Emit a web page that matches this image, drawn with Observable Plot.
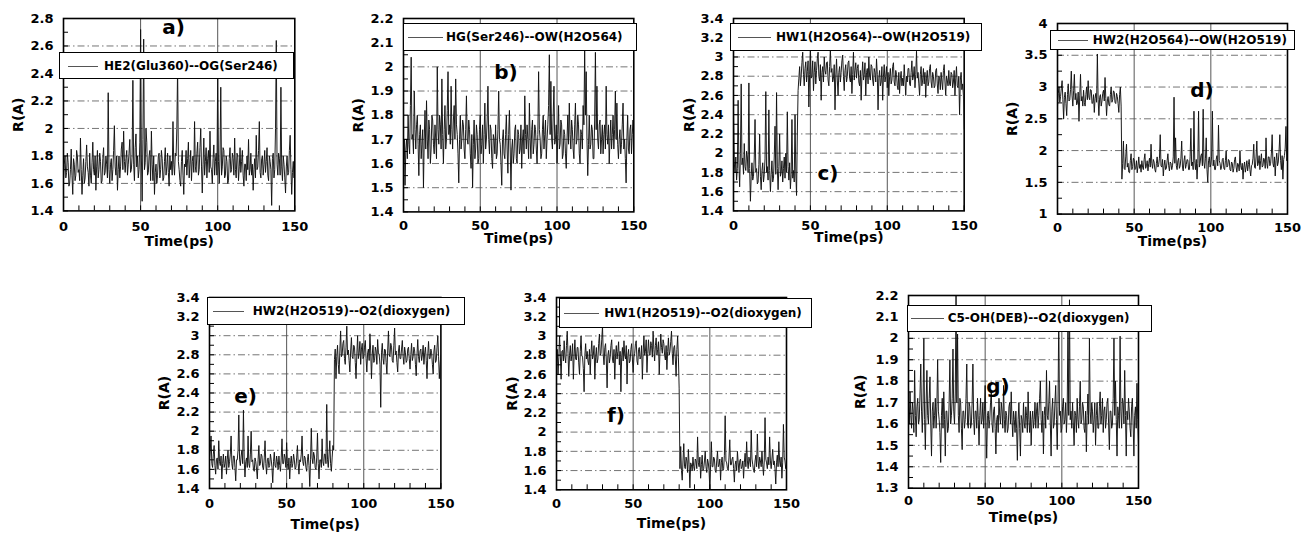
<!DOCTYPE html>
<html><head><meta charset="utf-8">
<script src="https://cdn.jsdelivr.net/npm/d3@7"></script>
<script src="https://cdn.jsdelivr.net/npm/@observablehq/plot@0.6"></script>
<style>
body{margin:0;background:#fff;}
#root{position:relative;width:1302px;height:533px;overflow:hidden;background:#fff;font-family:"DejaVu Sans",sans-serif;font-weight:bold;color:#000;}
.legend{position:absolute;background:#fff;border:1.5px solid #000;box-sizing:border-box;}
.legend .sample{position:absolute;height:0;border-top:1px solid #555;top:50%;}
.legend .txt{position:absolute;font-size:12px;white-space:nowrap;line-height:1;top:50%;transform:translateY(-50%);}
.plabel{position:absolute;font-size:20px;line-height:1;transform:translate(-50%,-50%);}
</style></head><body><div id="root"></div><script>
// time axis: one sample every 0.5 ps, 0..150 ps
const time = d3.range(301).map(i => i / 2);
const xTicks = [0, 50, 100, 150];
const xMinor = [0,10,20,30,40,50,60,70,80,90,100,110,120,130,140,150];
const xGrid = [50, 100];

const panelLabels = ["a)", "b)", "c)", "d)", "e)", "f)", "g)"];
const legendLabels = [
  "HE2(Glu360)--OG(Ser246)",
  "HG(Ser246)--OW(H2O564)",
  "HW1(H2O564)--OW(H2O519)",
  "HW2(H2O564)--OW(H2O519)",
  "HW2(H2O519)--O2(dioxygen)",
  "HW1(H2O519)--O2(dioxygen)",
  "C5-OH(DEB)--O2(dioxygen)"
];

const yTicksA = [1.4,1.6,1.8,2,2.2,2.4,2.6,2.8];
const yTicksB = [1.4,1.5,1.6,1.7,1.8,1.9,2,2.1,2.2];
const yTicksC = [1.4,1.6,1.8,2,2.2,2.4,2.6,2.8,3,3.2,3.4];
const yTicksD = [1,1.5,2,2.5,3,3.5,4];
const yTicksE = [1.4,1.6,1.8,2,2.2,2.4,2.6,2.8,3,3.2,3.4];
const yTicksF = [1.4,1.6,1.8,2,2.2,2.4,2.6,2.8,3,3.2,3.4];
const yTicksG = [1.3,1.4,1.5,1.6,1.7,1.8,1.9,2,2.1,2.2];

const seriesA = [
1.62,1.74,1.80,1.64,1.68,1.82,1.75,1.58,1.60,1.70,1.85,1.66,1.52,1.78,1.74,1.62,1.66,1.84,1.80,1.68,
1.70,1.62,1.93,1.70,1.52,1.66,1.78,1.60,1.64,1.76,1.88,1.72,1.68,1.58,1.82,1.66,1.60,1.75,1.90,1.70,
1.66,1.80,1.55,1.72,1.84,1.64,1.70,1.82,1.76,1.60,1.62,1.78,1.86,1.66,1.68,1.80,1.74,1.64,2.26,1.70,
1.60,1.74,1.78,1.62,1.70,1.84,2.02,1.72,1.66,1.80,1.55,1.70,1.80,1.64,1.72,1.85,1.90,1.70,1.98,1.76,
1.68,1.78,1.84,1.66,1.74,1.82,1.92,1.68,1.70,1.80,2.35,1.74,1.62,1.86,1.96,1.72,1.80,1.64,1.70,1.90,
2.72,1.80,1.47,1.92,2.65,1.70,1.75,2.00,1.90,1.66,1.68,1.80,1.84,1.62,1.98,1.74,1.62,1.80,1.52,1.68,
1.74,1.60,1.66,1.80,1.82,1.64,1.70,1.84,1.78,1.62,1.64,1.76,1.86,1.66,1.72,1.82,1.68,1.58,1.80,1.70,
1.76,1.66,2.05,1.74,1.66,1.82,1.80,2.00,2.45,1.76,1.70,1.62,1.58,1.76,1.84,1.66,1.52,1.74,1.72,1.84,
1.66,1.78,1.90,1.64,1.74,1.84,1.62,1.76,1.80,1.68,2.05,1.72,1.68,1.82,1.90,1.66,1.70,1.86,2.00,1.72,
1.53,1.74,1.93,1.66,1.76,1.86,1.64,1.78,1.84,1.68,1.98,1.72,1.70,1.60,1.78,1.88,1.66,1.76,1.82,1.66,
2.42,1.76,1.60,1.80,2.30,1.66,1.72,1.86,1.84,1.64,1.66,1.80,1.76,1.60,1.62,1.78,1.86,1.68,1.70,1.82,
1.78,1.66,1.93,1.70,1.64,1.82,1.80,1.62,1.72,1.86,1.68,1.76,1.84,1.66,1.58,1.74,1.74,1.62,1.80,1.70,
1.92,1.66,1.70,1.82,1.66,1.74,1.55,1.70,1.78,1.64,1.95,1.70,1.72,1.84,2.05,1.68,1.64,1.78,1.80,1.66,
1.74,1.84,1.68,1.76,1.86,1.66,1.62,1.80,1.76,1.70,1.44,1.78,1.82,1.64,1.70,2.00,2.64,1.74,1.66,1.82,
1.78,1.66,2.30,1.72,1.62,1.80,1.74,1.64,1.53,1.72,1.80,1.66,1.68,1.84,1.95,1.70,1.52,1.68,1.76,1.64,
1.86];
const seriesB = [
1.62,1.70,1.51,1.66,1.70,1.62,1.80,1.68,1.64,1.84,2.04,1.70,1.72,1.64,1.90,1.74,1.66,1.76,1.80,1.68,
1.55,1.72,1.76,1.62,1.68,1.74,1.50,1.70,1.82,1.66,1.86,1.70,1.62,1.78,1.74,1.60,1.66,1.80,1.78,1.68,
1.64,1.76,1.70,1.62,2.00,1.74,1.68,1.80,1.76,1.66,1.95,1.72,1.60,1.74,1.84,1.66,1.70,1.82,1.98,1.72,
1.76,1.68,1.92,1.74,1.66,1.78,1.84,1.70,1.95,1.76,1.72,1.64,1.52,1.70,1.80,1.66,1.70,1.78,1.76,1.66,
1.62,1.74,1.88,1.70,1.68,1.78,1.74,1.64,1.58,1.72,1.50,1.68,1.78,1.62,1.66,1.76,1.72,1.60,1.62,1.74,
1.80,1.64,1.68,1.76,1.60,1.72,1.85,1.66,1.70,1.78,1.92,1.70,1.64,1.76,1.74,1.62,1.58,1.72,1.70,1.64,
1.76,1.62,1.64,1.74,1.90,1.70,1.68,1.60,1.51,1.70,1.74,1.64,1.62,1.72,1.80,1.66,1.56,1.72,1.82,1.66,
1.49,1.66,1.70,1.60,1.64,1.74,1.76,1.62,1.60,1.74,1.72,1.64,1.66,1.76,1.58,1.70,1.74,1.64,1.88,1.72,
1.66,1.76,1.70,1.62,1.85,1.70,1.62,1.74,1.78,1.64,1.68,1.76,1.74,1.66,1.60,1.72,1.98,1.74,1.70,1.62,
1.64,1.74,1.80,1.66,1.72,1.78,1.62,1.70,1.76,1.84,2.05,1.72,1.94,1.70,1.66,1.80,1.92,1.68,1.70,1.76,
1.60,1.72,1.84,1.66,1.68,1.78,1.76,1.62,1.64,1.74,1.72,1.64,1.58,1.70,1.80,1.68,1.85,1.72,1.66,1.78,
1.74,1.66,1.62,1.76,1.85,1.68,1.70,1.80,1.76,1.64,1.60,1.74,1.72,1.66,1.84,1.76,2.07,1.80,1.98,1.70,
1.55,1.68,1.80,1.66,1.68,1.76,1.74,1.62,1.62,1.78,2.06,1.74,1.92,1.70,1.66,1.76,1.78,1.64,1.70,1.76,
1.64,1.72,1.76,1.66,1.92,1.72,1.68,1.76,1.60,1.70,1.78,1.66,1.72,1.80,1.66,1.74,1.90,1.70,1.85,1.68,
1.62,1.70,1.74,1.64,1.68,1.76,1.85,1.66,1.70,1.62,1.52,1.70,1.80,1.66,1.64,1.74,1.76,1.64,1.72,1.78,
1.68];
const seriesC = [
2.45,1.90,1.80,1.96,1.72,1.84,2.55,1.90,1.65,2.00,2.72,1.88,1.95,1.78,2.10,1.86,1.82,2.02,1.96,1.80,
2.73,1.84,1.50,1.76,1.90,1.72,1.76,1.95,2.35,1.80,1.84,1.68,1.70,1.88,2.20,1.76,1.62,1.82,1.90,1.70,
1.78,1.94,2.64,1.80,1.86,1.72,2.45,1.82,1.60,1.78,1.92,1.70,1.74,1.96,2.28,1.78,2.63,1.84,1.62,1.86,
2.20,1.76,1.80,1.92,1.70,1.84,1.96,1.74,2.00,1.80,2.43,1.86,1.72,1.90,1.63,1.78,2.35,1.74,1.82,1.70,
2.40,1.80,1.56,2.20,2.65,2.78,2.90,2.70,2.80,2.94,3.05,2.82,2.70,2.88,2.95,2.74,2.85,2.96,2.48,2.82,
3.10,2.78,2.80,2.96,2.65,2.84,2.95,2.72,2.86,2.98,3.05,2.80,2.75,2.92,2.55,2.84,2.90,2.74,3.00,2.86,
2.82,2.94,2.95,2.76,2.70,2.90,3.08,2.84,2.88,2.74,2.78,2.92,2.45,2.80,2.98,2.76,2.60,2.84,2.90,2.74,
2.84,2.96,3.02,2.80,2.65,2.86,2.92,2.74,2.80,2.94,2.96,2.78,2.74,2.90,2.62,2.82,3.05,2.76,2.86,2.94,
2.78,2.88,2.92,2.74,2.70,2.86,2.55,2.80,2.95,2.76,2.82,2.94,2.60,2.84,2.88,2.72,3.00,2.80,2.76,2.92,
2.90,2.76,2.70,2.88,2.84,2.74,2.98,2.82,2.45,2.78,2.86,2.70,2.74,2.90,2.55,2.80,2.92,2.74,2.80,2.90,
2.68,2.84,2.60,2.80,2.88,2.72,2.76,2.90,2.94,2.74,2.70,2.86,2.82,2.70,2.66,2.84,2.62,2.78,2.85,2.70,
2.78,2.70,2.92,2.76,2.60,2.80,2.74,2.88,2.88,2.72,2.70,2.84,2.96,2.76,2.80,2.90,2.68,2.82,3.06,2.78,
2.84,2.72,2.60,2.82,2.90,2.70,2.76,2.88,2.72,2.84,2.58,2.78,2.86,2.70,2.74,2.88,2.92,2.74,2.68,2.84,
2.80,2.68,2.70,2.86,2.88,2.72,2.62,2.80,2.78,2.66,2.84,2.74,2.66,2.86,2.92,2.74,2.60,2.80,2.76,2.70,
2.86,2.72,2.70,2.84,2.82,2.68,2.74,2.86,2.60,2.78,2.90,2.70,2.68,2.80,2.40,2.76,2.84,2.66,2.72,2.60,
2.25];
const seriesD = [
2.70,2.90,3.00,2.76,2.85,2.98,3.10,2.80,2.50,2.84,2.92,2.74,2.55,2.88,3.05,2.78,2.80,2.96,3.25,2.86,
2.70,2.94,3.20,2.80,2.90,2.72,2.75,2.92,2.46,2.86,3.20,2.78,2.85,2.70,2.95,2.76,2.70,2.88,3.00,2.80,
3.10,2.84,2.80,2.96,2.95,2.74,2.75,2.88,2.60,2.82,2.90,2.76,3.52,2.80,2.55,2.84,2.88,2.70,2.78,2.90,
2.95,2.78,3.15,2.82,2.55,2.78,2.85,2.72,2.70,2.88,3.00,2.76,2.80,2.94,2.92,2.76,2.74,2.90,2.85,2.74,
2.60,2.88,3.00,2.70,1.55,1.80,2.15,1.72,1.70,1.90,2.10,1.74,1.80,1.66,1.65,1.84,1.95,1.70,1.75,1.88,
1.85,1.70,1.72,1.84,1.65,1.76,1.90,1.72,1.78,1.66,1.84,1.74,1.70,1.86,1.95,1.72,1.76,1.84,1.68,1.80,
1.88,1.74,2.10,1.80,1.72,1.86,1.82,1.70,1.66,1.80,1.90,1.74,1.78,1.88,2.25,1.76,1.74,1.86,1.60,1.76,
1.85,1.70,1.72,1.84,1.95,1.76,1.68,1.82,1.80,1.70,1.76,1.90,2.84,1.80,2.20,1.76,1.70,1.84,1.88,1.72,
1.76,1.88,2.15,1.74,1.68,1.84,1.92,1.72,1.78,1.86,1.85,1.70,1.70,1.90,2.35,1.76,1.82,1.70,2.62,1.84,
1.70,1.86,1.55,1.80,2.62,1.74,1.80,1.92,1.95,1.76,2.65,1.82,1.72,1.88,2.20,1.70,1.50,1.84,1.90,1.74,
1.78,1.90,2.62,1.76,1.85,1.70,1.70,1.86,1.92,1.76,2.40,1.84,1.80,1.70,1.74,1.86,1.88,1.72,1.70,1.84,
2.00,1.74,1.76,1.86,1.84,1.70,1.68,1.82,1.80,1.66,1.72,1.86,1.90,1.74,1.66,1.80,1.78,1.68,2.00,1.76,
1.70,1.80,1.55,1.74,1.82,1.66,1.74,1.84,1.68,1.78,1.86,1.70,1.60,1.76,1.78,1.88,2.10,1.74,1.72,1.90,
2.15,1.76,1.80,1.92,1.70,1.84,1.95,1.74,1.76,1.88,1.85,1.72,2.20,1.80,1.72,1.90,1.90,1.76,1.80,1.96,
2.25,1.80,1.74,1.90,1.60,1.84,1.96,1.76,1.82,2.00,2.25,1.84,1.70,1.92,1.55,1.86,1.92,2.04,2.38,1.84,
1.90];
const seriesE = [
1.70,1.80,1.95,1.66,1.62,1.76,1.85,1.64,1.55,1.70,1.72,1.60,1.90,1.68,1.64,1.74,1.50,1.66,1.76,1.62,
1.66,1.74,1.55,1.70,1.80,1.62,1.68,1.76,1.95,1.66,1.60,1.74,1.74,1.62,1.48,1.70,1.70,1.80,2.17,1.70,
1.64,1.74,1.80,1.66,2.22,1.70,1.52,1.68,1.72,1.62,1.95,1.66,1.62,1.76,2.00,1.68,1.70,1.60,1.58,1.72,
1.68,1.60,1.50,1.70,1.85,1.64,1.66,1.76,1.74,1.62,1.60,1.72,1.90,1.66,1.55,1.70,1.72,1.62,1.64,1.76,
1.70,1.62,1.46,1.68,1.78,1.64,1.62,1.74,1.68,1.60,1.74,1.64,1.58,1.72,1.92,1.66,1.66,1.76,1.72,1.62,
1.88,1.66,1.60,1.72,1.50,1.66,1.74,1.62,1.66,1.76,1.70,1.60,1.62,1.72,1.85,1.66,1.55,1.70,1.68,1.76,
1.95,1.68,1.64,1.74,1.72,1.62,1.58,1.70,1.76,1.64,1.42,1.70,2.03,1.72,1.66,1.78,1.74,1.62,1.60,1.72,
1.98,1.66,1.50,1.70,1.70,1.62,1.92,1.68,1.64,1.76,1.76,1.66,2.28,1.70,1.62,1.76,1.90,1.66,1.58,1.72,
1.85,1.80,2.75,2.86,2.55,2.78,2.90,2.70,2.60,2.84,3.05,2.78,2.80,2.92,2.95,2.76,2.70,2.88,3.10,2.80,
2.85,2.74,2.62,2.84,2.98,2.78,2.76,2.90,2.88,2.72,2.55,2.80,3.00,2.76,2.82,2.94,2.70,2.86,2.92,2.76,
2.78,2.88,2.95,2.76,2.62,2.82,2.86,2.74,3.02,2.84,2.55,2.80,2.90,2.72,2.74,2.88,2.84,2.70,2.96,2.82,
2.80,2.70,2.25,2.82,2.92,2.76,2.70,2.86,2.85,2.72,2.60,2.84,3.05,2.80,2.78,2.92,2.88,2.74,2.72,2.90,
3.08,2.80,2.84,2.72,2.62,2.84,2.90,2.76,2.76,2.86,2.95,2.78,2.70,2.88,2.82,2.72,2.74,2.86,2.88,2.76,
2.65,2.80,2.92,2.74,2.78,2.88,2.84,2.70,2.58,2.80,2.96,2.78,2.72,2.84,2.86,2.74,2.80,2.90,2.70,2.82,
2.88,2.74,2.55,2.80,2.94,2.76,2.76,2.86,2.82,2.70,2.60,2.84,2.90,2.72,2.74,2.88,3.00,2.78,2.55,2.70,
2.80];
const seriesF = [
2.70,2.86,2.60,2.78,3.00,2.80,2.55,2.84,2.85,2.74,2.95,2.78,2.72,2.90,3.05,2.82,2.58,2.80,2.90,2.74,
2.80,2.92,2.55,2.80,2.96,2.76,2.75,2.88,2.88,2.72,2.60,2.84,3.00,2.80,2.78,2.66,2.42,2.80,2.92,2.76,
2.84,2.74,2.70,2.86,2.60,2.82,2.95,2.76,2.80,2.90,2.55,2.78,2.88,2.72,2.76,2.92,3.02,2.80,2.82,2.96,
3.10,2.80,2.70,2.88,2.92,2.74,2.46,2.80,2.85,2.72,2.78,2.90,2.96,2.76,2.72,2.86,2.55,2.80,2.90,2.76,
2.84,2.94,2.70,2.84,2.42,2.78,2.88,2.74,2.95,2.80,2.76,2.90,2.50,2.80,2.86,2.72,2.74,2.86,2.92,2.76,
2.62,2.78,2.82,2.92,2.95,2.74,2.70,2.86,2.88,2.76,2.78,2.90,2.55,2.82,3.00,2.80,2.84,2.96,2.62,2.82,
2.96,2.82,2.80,2.94,2.90,2.78,3.05,2.86,2.74,2.90,2.98,2.80,2.86,2.94,2.60,2.84,3.02,2.88,2.82,2.96,
2.92,2.80,2.75,2.90,2.65,2.84,2.98,2.80,2.84,2.94,3.05,2.82,2.70,2.88,2.90,2.76,2.58,2.86,3.00,2.78,
2.45,1.62,1.85,1.60,1.50,1.70,1.88,1.64,1.62,1.74,1.70,1.58,1.82,1.66,1.42,1.68,1.66,1.60,1.74,1.64,
1.60,1.72,1.70,1.62,1.95,1.68,1.64,1.74,1.52,1.66,1.76,1.60,1.62,1.70,1.80,1.64,1.58,1.72,1.68,1.60,
1.40,1.66,1.90,1.64,1.64,1.74,1.72,1.60,1.58,1.70,1.80,1.64,1.66,1.72,1.50,1.68,1.74,1.60,1.62,1.76,
2.17,1.70,1.68,1.62,1.60,1.74,1.92,1.66,1.66,1.72,1.74,1.62,1.48,1.66,1.70,1.60,1.80,1.68,1.58,1.70,
1.72,1.62,1.64,1.70,1.52,1.68,1.78,1.64,1.90,1.70,1.62,1.74,1.70,1.64,2.02,1.72,1.66,1.60,1.58,1.70,
1.76,1.64,1.98,1.70,1.62,1.74,1.70,1.64,1.80,1.66,1.55,1.70,2.15,1.72,1.68,1.62,1.74,1.66,1.95,1.70,
1.62,1.72,1.82,1.66,1.70,1.62,1.46,1.68,1.76,1.64,1.90,1.70,1.64,1.74,1.52,1.68,2.08,1.74,1.70,1.62,
1.66];
const seriesG = [
1.70,1.60,1.75,1.64,1.58,1.70,1.66,1.56,1.85,1.64,1.54,1.68,1.72,1.60,1.62,1.74,1.88,1.66,1.56,1.70,
2.00,1.62,1.48,1.70,1.85,1.64,1.60,1.72,1.82,1.60,1.45,1.66,1.70,1.58,1.64,1.72,1.58,1.68,1.90,1.66,
1.62,1.56,1.42,1.64,1.72,1.58,1.75,1.62,1.45,1.66,1.66,1.56,1.58,1.70,1.90,1.60,1.64,1.72,1.95,1.66,
1.60,1.74,2.20,1.70,2.02,1.64,1.56,1.72,1.70,1.58,1.48,1.66,1.66,1.58,1.62,1.72,1.88,1.60,1.58,1.70,
1.68,1.58,1.60,1.70,1.88,1.62,1.55,1.66,1.66,1.58,1.72,1.62,1.50,1.64,1.72,1.60,1.62,1.70,1.58,1.66,
1.78,1.60,1.44,1.64,1.66,1.58,1.62,1.70,1.75,1.60,1.56,1.66,1.68,1.58,1.46,1.62,1.64,1.56,1.72,1.64,
1.60,1.70,1.66,1.58,1.78,1.62,1.56,1.66,1.64,1.56,1.58,1.68,1.70,1.60,1.75,1.62,1.54,1.66,1.62,1.56,
1.66,1.58,1.43,1.62,1.70,1.58,1.45,1.64,1.62,1.56,1.70,1.60,1.58,1.68,1.64,1.56,1.75,1.62,1.56,1.66,
1.50,1.62,1.66,1.58,1.62,1.70,1.58,1.66,1.70,1.58,1.64,1.72,1.80,1.62,1.56,1.66,1.46,1.64,1.68,1.58,
1.85,1.64,1.62,1.70,1.80,1.60,1.45,1.66,1.72,1.58,1.60,1.70,1.78,1.62,1.48,1.68,2.10,1.64,1.66,1.56,
1.58,1.68,1.72,1.60,1.62,1.70,1.56,1.66,2.08,1.64,2.18,1.62,1.66,1.58,1.70,1.60,1.50,1.66,1.64,1.56,
1.72,1.62,1.58,1.68,1.80,1.60,1.62,1.70,1.68,1.58,1.56,1.66,1.47,1.64,1.74,1.60,2.00,1.66,1.60,1.70,
1.66,1.56,1.62,1.70,1.50,1.64,1.70,1.58,1.58,1.68,1.75,1.60,1.64,1.72,1.56,1.66,1.68,1.58,1.62,1.70,
1.72,1.60,1.48,1.66,1.66,1.58,1.60,1.72,2.00,1.64,1.80,1.62,1.45,1.68,1.64,1.58,2.01,1.66,1.58,1.72,
1.70,1.60,1.85,1.64,1.45,1.66,1.62,1.72,1.66,1.58,1.54,1.68,1.72,1.60,1.45,1.64,1.68,1.58,1.79,1.62,
1.50];

const seriesList = [seriesA, seriesB, seriesC, seriesD, seriesE, seriesF, seriesG];
const yTickList = [yTicksA, yTicksB, yTicksC, yTicksD, yTicksE, yTicksF, yTicksG];
const yMinorSteps = [0.1, 0.05, 0.1, 0.25, 0.1, 0.1, 0.05];

// page layout (pixels): frame box, legend box, legend sample, text start, label centre
const layout = [
  {frame:[62.7,18.3,294,210.7],   legend:[59,52,294,79],          sample:[67,97],     textX:103,   label:[173.5,26.5], tickPad:11, titleDy:31, titleDx:-45},
  {frame:[402.7,18.3,633,211.7],  legend:[402.7,22.7,636.7,50.7], sample:[407,442],   textX:445,   label:[506,72],     tickPad:9,  titleDy:27, titleDx:-45},
  {frame:[733.3,18.3,964,210.7],  legend:[730,23,981.7,51],       sample:[737,770],   textX:775,   label:[828,172.5],  tickPad:10, titleDy:27, titleDx:-44},
  {frame:[1056.7,22.7,1286.7,213.3], legend:[1050,29.5,1295,49.5], sample:[1057,1087], textX:1091.7, label:[1202,90],  tickPad:9,  titleDy:27, titleDx:-45},
  {frame:[209.3,296.7,440.7,487.7], legend:[207.3,296.7,465,325], sample:[211.7,243], textX:251.7, label:[245.5,396],  tickPad:10, titleDy:36, titleDx:-45},
  {frame:[556,296.7,786,489],     legend:[559.3,298.3,812,327.7], sample:[563,598],   textX:603.3, label:[616,415],    tickPad:9,  titleDy:34, titleDx:-44},
  {frame:[908.3,295,1138.3,487.7], legend:[907,305,1152,331.7],   sample:[910,943],   textX:946.7, label:[998,386],    tickPad:8,  titleDy:29, titleDx:-48}
];

const root = document.getElementById("root");
const fmt = d => String(+d.toFixed(2));

seriesList.forEach((values, k) => {
  const L = layout[k];
  const [fl, ft, fr, fb] = L.frame;
  const ML = 62, MR = 14, MT = 12, MB = 48;
  const W = fr - fl + ML + MR, H = fb - ft + MT + MB;
  const yTicks = yTickList[k];
  const y0 = yTicks[0], y1 = yTicks[yTicks.length - 1];
  const step = yMinorSteps[k];
  const yMinor = d3.range(Math.round((y1 - y0) / step) + 1).map(i => +(y0 + i * step).toFixed(3));
  const data = time.map((t, i) => ({t, r: values[i]}));
  const svg = Plot.plot({
    width: W, height: H,
    marginLeft: ML, marginRight: MR, marginTop: MT, marginBottom: MB,
    x: {domain: [0, 150]},
    y: {domain: [y0, y1]},
    style: {fontFamily: "'DejaVu Sans', sans-serif", fontWeight: "bold", background: "none", overflow: "visible", color: "#000"},
    marks: [
      Plot.gridY(yTicks.slice(1, -1), {stroke: "#333", strokeOpacity: 0.85, strokeWidth: 0.8, strokeDasharray: "7,3,1.5,3"}),
      Plot.gridX(xGrid, {stroke: "#555", strokeOpacity: 1, strokeWidth: 1}),
      Plot.lineY(data, {x: "t", y: "r", stroke: "#111", strokeWidth: 0.95, clip: true}),
      Plot.frame({stroke: "#000", strokeWidth: 1.6}),
      Plot.axisX(xMinor, {tickSize: -5, tickFormat: () => "", label: null}),
      Plot.axisY(yMinor, {tickSize: -5, tickFormat: () => "", label: null}),
      Plot.axisX(xTicks, {tickSize: 0, tickPadding: L.tickPad, fontSize: 13, label: null}),
      Plot.axisY(yTicks, {tickSize: 0, tickPadding: 10, fontSize: 13, label: null, tickFormat: fmt}),
      Plot.text(["Time(ps)"], {text: d => d, frameAnchor: "bottom", dy: L.titleDy, lineAnchor: "middle", textAnchor: "middle", fontSize: 14, fontWeight: "bold"}),
      Plot.text(["R(A)"], {text: d => d, frameAnchor: "left", dx: L.titleDx, rotate: -90, lineAnchor: "middle", textAnchor: "middle", fontSize: 14, fontWeight: "bold"})
    ]
  });
  svg.style.position = "absolute";
  svg.style.left = (fl - ML) + "px";
  svg.style.top = (ft - MT) + "px";
  root.appendChild(svg);
});

seriesList.forEach((values, k) => {
  const L = layout[k];
  const [l, t, r, b] = L.legend;
  const lg = document.createElement("div");
  lg.className = "legend";
  Object.assign(lg.style, {left: l + "px", top: t + "px", width: (r - l) + "px", height: (b - t) + "px"});
  const s = document.createElement("div");
  s.className = "sample";
  Object.assign(s.style, {left: (L.sample[0] - l) + "px", width: (L.sample[1] - L.sample[0]) + "px"});
  const tx = document.createElement("div");
  tx.className = "txt";
  tx.style.left = (L.textX - l) + "px";
  tx.textContent = legendLabels[k];
  lg.appendChild(s); lg.appendChild(tx);
  root.appendChild(lg);
  const pl = document.createElement("div");
  pl.className = "plabel";
  Object.assign(pl.style, {left: L.label[0] + "px", top: L.label[1] + "px"});
  pl.textContent = panelLabels[k];
  root.appendChild(pl);
});
</script></body></html>
